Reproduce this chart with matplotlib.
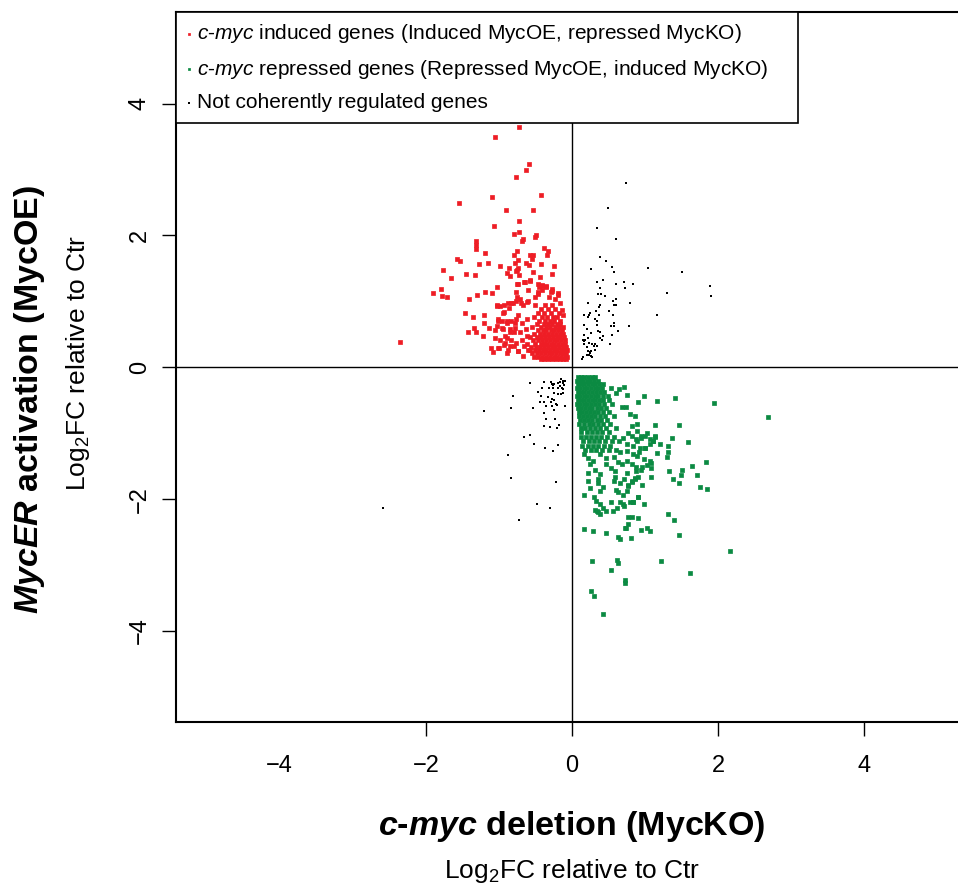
import matplotlib
matplotlib.use('Agg')
import matplotlib.pyplot as plt

plt.rcParams['font.family'] = ['Liberation Sans', 'DejaVu Sans']
plt.rcParams['mathtext.fontset'] = 'custom'
plt.rcParams['mathtext.rm'] = 'Liberation Sans'
plt.rcParams['mathtext.it'] = 'Liberation Sans:italic'
plt.rcParams['mathtext.bf'] = 'Liberation Sans:bold'
plt.rcParams['mathtext.bfit'] = 'Liberation Sans:bold:italic'

# c-myc induced genes (MycKO logFC, MycOE logFC), sparse part
red_sparse = [
    (-0.73, 3.65), (-1.06, 3.50), (-0.59, 3.09), (-0.63, 2.99), (-0.76, 2.88),
    (-0.42, 2.62), (-1.09, 2.59), (-1.54, 2.49), (-0.90, 2.39), (-0.53, 2.39),
    (-0.72, 2.22), (-1.07, 2.15), (-0.73, 2.06), (-0.79, 2.02), (-0.49, 2.01),
    (-0.51, 1.98), (-0.67, 1.94), (-0.68, 1.91), (-1.32, 1.92), (-1.32, 1.85),
    (-1.31, 1.80), (-0.38, 1.81), (-0.33, 1.77), (-0.34, 1.71), (-0.75, 1.76),
    (-1.19, 1.74), (-0.80, 1.70), (-0.57, 1.70), (-0.54, 1.70), (-0.55, 1.65),
    (-1.58, 1.65), (-1.53, 1.61), (-0.74, 1.63), (-0.78, 1.59), (-0.63, 1.59),
    (-0.59, 1.55), (-0.42, 1.56), (-0.25, 1.54), (-1.15, 1.58), (-1.27, 1.56),
    (-0.98, 1.53), (-0.86, 1.51), (-0.74, 1.51), (-0.75, 1.47), (-1.76, 1.48),
    (-1.45, 1.42), (-1.33, 1.40), (-0.89, 1.43), (-0.77, 1.46), (-0.53, 1.45),
    (-0.73, 1.40), (-0.85, 1.39), (-1.66, 1.36), (-0.44, 1.37), (-0.27, 1.41),
    (-0.66, 1.30), (-0.58, 1.32), (-0.75, 1.26), (-0.41, 1.25), (-0.35, 1.22),
    (-0.45, 1.22), (-0.41, 1.18), (-1.79, 1.19), (-1.02, 1.22), (-1.90, 1.13),
    (-1.78, 1.08), (-1.71, 1.06), (-1.41, 1.04), (-1.30, 1.10), (-1.19, 1.14),
    (-1.10, 1.12), (-0.76, 1.14), (-0.46, 1.15), (-0.29, 1.14), (-0.27, 1.16),
    (-0.19, 1.10), (-1.46, 0.82), (-1.35, 0.77), (-1.21, 0.79), (-1.20, 0.67),
    (-1.13, 0.60), (-1.42, 0.54), (-1.34, 0.59), (-1.32, 0.53), (-1.22, 0.47),
    (-1.05, 0.56), (-1.05, 0.44), (-1.11, 0.30), (-1.08, 0.24), (-1.00, 0.30),
    (-0.93, 0.34), (-0.89, 0.22), (-2.35, 0.39),
    (-1.03, 0.93), (-0.98, 0.93), (-0.93, 0.84), (-0.86, 0.90), (-0.81, 0.98),
    (-0.76, 1.01), (-0.71, 1.03), (-0.67, 0.95), (-0.61, 0.99), (-1.01, 0.73),
    (-0.96, 0.70), (-0.89, 0.68), (-0.83, 0.70), (-0.76, 0.73), (-0.69, 0.68),
    (-0.62, 0.73), (-1.03, 0.63), (-0.94, 0.58), (-0.85, 0.53), (-0.78, 0.60),
    (-0.71, 0.53), (-0.63, 0.58), (-0.99, 0.42), (-0.92, 0.47), (-0.83, 0.42),
    (-0.76, 0.37), (-0.69, 0.42), (-0.62, 0.47), (-0.87, 0.27), (-0.80, 0.32),
    (-0.74, 0.25), (-0.66, 0.32), (-0.60, 0.27),
    (-0.74, 1.26), (-0.65, 1.29), (-0.58, 1.31), (-0.47, 1.27), (-0.41, 1.23),
    (-0.36, 1.24), (-0.27, 1.19), (-0.19, 1.13), (-0.46, 1.11), (-0.60, 1.18),
    (-0.75, 1.06), (-0.87, 0.98), (-0.93, 0.94), (-1.02, 0.94), (-0.95, 0.83),
    (-0.84, 0.98), (-0.70, 0.97), (-0.60, 1.01), (-0.51, 1.06), (-0.32, 1.06),
    (-0.23, 1.03), (-0.16, 0.97), (-0.14, 0.87), (-0.12, 0.79), (-0.74, 0.80),
    (-0.78, 0.68), (-0.89, 0.70), (-1.01, 0.70), (-0.96, 0.59), (-0.85, 0.58),
    (-0.80, 0.53), (-0.92, 0.37), (-0.85, 0.32), (-0.74, 0.25), (-0.67, 0.17),
    (-0.89, 0.45), (-1.01, 0.30),
]

# c-myc induced genes, dense core: (MycOE logFC, [MycKO logFC ...])
red_core = [
    (0.12, [-0.08, -0.12, -0.17, -0.22, -0.27, -0.33, -0.38, -0.43]),
    (0.16, [-0.07, -0.10, -0.15, -0.20, -0.25, -0.30, -0.35, -0.41, -0.46, -0.52]),
    (0.21, [-0.08, -0.12, -0.17, -0.22, -0.28, -0.32, -0.37, -0.42, -0.48, -0.55]),
    (0.26, [-0.07, -0.11, -0.15, -0.20, -0.25, -0.30, -0.36, -0.40, -0.45, -0.51, -0.58]),
    (0.31, [-0.08, -0.13, -0.18, -0.23, -0.27, -0.33, -0.38, -0.44, -0.49, -0.56]),
    (0.36, [-0.09, -0.14, -0.19, -0.24, -0.29, -0.34, -0.39, -0.43, -0.50, -0.61]),
    (0.41, [-0.10, -0.15, -0.20, -0.25, -0.30, -0.35, -0.41, -0.46, -0.53]),
    (0.46, [-0.11, -0.16, -0.21, -0.26, -0.31, -0.37, -0.42, -0.48, -0.57]),
    (0.51, [-0.12, -0.17, -0.22, -0.28, -0.33, -0.38, -0.44, -0.52]),
    (0.56, [-0.14, -0.19, -0.24, -0.29, -0.35, -0.40, -0.47]),
    (0.61, [-0.13, -0.18, -0.23, -0.30, -0.36, -0.43, -0.55]),
    (0.66, [-0.16, -0.21, -0.27, -0.33, -0.39, -0.48]),
    (0.71, [-0.17, -0.24, -0.30, -0.37, -0.45]),
    (0.77, [-0.20, -0.26, -0.34, -0.41, -0.52]),
    (0.83, [-0.18, -0.29, -0.38, -0.47]),
    (0.89, [-0.23, -0.33, -0.42]),
    (0.95, [-0.28, -0.37, -0.50]),
]

# c-myc repressed genes, sparse part
green_sparse = [
    (0.99, -0.43), (1.16, -0.51), (1.41, -0.47), (0.75, -0.42), (0.71, -0.30),
    (0.65, -0.33), (0.54, -0.32), (0.60, -0.39), (0.91, -0.52), (0.68, -0.60),
    (0.74, -0.60), (1.46, -0.87), (1.13, -0.88), (1.37, -1.07), (1.21, -1.17),
    (1.32, -1.19), (1.31, -1.29), (1.30, -1.36), (1.16, -1.30), (1.08, -1.45),
    (1.33, -1.57), (1.38, -1.70), (1.46, -1.75), (1.08, -1.67), (0.96, -1.78),
    (0.90, -1.96), (0.99, -2.07), (1.32, -2.23), (1.39, -2.32), (1.46, -2.55),
    (1.02, -2.44), (1.07, -2.49), (0.95, -2.46), (0.91, -2.29), (0.81, -2.59),
    (0.73, -2.44), (0.63, -2.57), (0.66, -2.61), (0.46, -2.51), (0.29, -2.49),
    (0.16, -2.45), (0.28, -2.94), (0.62, -2.93), (0.63, -2.97), (0.54, -3.08),
    (1.22, -2.94), (0.73, -3.23), (0.73, -3.27), (0.26, -3.40), (0.30, -3.47),
    (0.43, -3.74), (1.95, -0.54), (2.68, -0.75), (1.59, -1.13), (1.84, -1.43),
    (1.64, -1.49), (1.51, -1.56), (1.49, -1.63), (1.71, -1.64), (1.75, -1.82),
    (1.85, -1.85), (2.16, -2.78), (1.61, -3.12), (0.82, -2.27), (0.76, -2.27),
    (1.14, -1.05), (1.11, -1.12), (1.07, -1.09), (1.00, -1.04), (0.94, -1.07),
    (0.88, -1.08), (0.93, -1.22), (1.00, -1.23), (0.89, -1.35), (0.98, -1.39),
    (1.08, -1.52), (0.88, -1.51), (0.96, -1.51), (0.86, -1.68), (0.82, -1.72),
    (0.77, -1.79), (0.91, -1.96), (0.84, -2.05), (0.71, -2.10), (0.76, -2.38),
    (0.74, -2.44),
    (0.30, -1.96), (0.33, -2.03), (0.39, -2.08), (0.43, -2.13), (0.34, -2.18),
    (0.38, -2.22), (0.47, -2.18), (0.54, -2.04), (0.56, -2.18), (0.62, -2.13),
    (0.66, -2.04), (0.70, -2.08), (0.79, -2.04), (0.84, -2.05), (0.38, -1.87),
    (0.42, -1.82), (0.60, -1.86), (0.63, -1.89), (0.70, -1.93), (0.75, -1.87),
    (0.76, -1.80), (0.82, -1.74), (0.86, -1.70), (0.90, -1.66), (0.16, -1.94),
    (0.32, -2.17), (0.36, -2.20), (0.22, -1.73), (0.35, -1.75), (0.25, -1.83),
    (0.57, -1.72), (0.59, -1.67), (0.66, -1.75), (0.71, -1.70), (0.75, -1.60),
    (0.47, -1.47), (0.53, -1.52), (0.59, -1.57), (0.63, -1.44), (0.69, -1.47),
    (0.75, -1.42), (0.82, -1.47), (0.88, -1.58), (0.95, -1.56), (1.02, -1.48),
    (1.07, -1.42), (0.25, -1.47), (0.32, -1.55), (0.38, -1.62), (0.36, -1.70),
    (0.22, -1.61), (0.16, -1.31), (0.22, -1.37), (0.29, -1.42), (0.38, -1.32),
    (0.47, -1.38), (0.57, -1.36), (0.66, -1.29), (0.75, -1.27), (0.84, -1.32),
    (0.92, -1.28), (1.00, -1.22), (1.07, -1.17), (1.11, -1.12), (0.89, -0.96),
    (0.95, -1.04), (1.02, -0.99), (1.14, -1.04), (0.82, -1.04), (0.75, -1.17),
    (0.84, -1.19), (0.89, -1.12), (0.79, -0.71), (0.86, -0.74), (0.82, -0.89),
    (0.89, -0.86), (0.77, -0.99), (0.70, -1.07),
]

# c-myc repressed genes, dense core: (MycOE logFC, [MycKO logFC ...])
green_core = [
    (-0.15, [0.08, 0.12, 0.17, 0.22, 0.27, 0.31]),
    (-0.20, [0.07, 0.11, 0.15, 0.20, 0.25, 0.30, 0.35]),
    (-0.26, [0.08, 0.12, 0.17, 0.22, 0.27, 0.32, 0.37, 0.43]),
    (-0.32, [0.07, 0.11, 0.16, 0.21, 0.26, 0.31, 0.36, 0.41]),
    (-0.38, [0.08, 0.12, 0.17, 0.22, 0.27, 0.33, 0.38, 0.44]),
    (-0.44, [0.07, 0.11, 0.16, 0.21, 0.26, 0.31, 0.36, 0.42, 0.49]),
    (-0.50, [0.08, 0.12, 0.17, 0.22, 0.27, 0.32, 0.37, 0.43, 0.51]),
    (-0.56, [0.07, 0.11, 0.16, 0.21, 0.26, 0.31, 0.37, 0.44, 0.55]),
    (-0.62, [0.08, 0.13, 0.18, 0.23, 0.28, 0.34, 0.40, 0.47]),
    (-0.68, [0.09, 0.14, 0.19, 0.24, 0.30, 0.36, 0.42, 0.50]),
    (-0.74, [0.10, 0.15, 0.20, 0.26, 0.32, 0.38, 0.45, 0.58]),
    (-0.80, [0.11, 0.16, 0.22, 0.28, 0.34, 0.40, 0.48]),
    (-0.86, [0.10, 0.17, 0.23, 0.29, 0.35, 0.42, 0.52]),
    (-0.92, [0.12, 0.18, 0.25, 0.31, 0.38, 0.46, 0.60]),
    (-0.98, [0.13, 0.20, 0.27, 0.34, 0.41, 0.50]),
    (-1.05, [0.12, 0.19, 0.26, 0.33, 0.40, 0.48, 0.57]),
    (-1.12, [0.15, 0.23, 0.30, 0.37, 0.45, 0.55, 0.64]),
    (-1.19, [0.14, 0.22, 0.29, 0.36, 0.44, 0.52]),
    (-1.25, [0.18, 0.26, 0.33, 0.41, 0.50, 0.60]),
]

# not coherently regulated genes
black_pts = [
    (-0.15, -0.17), (-0.12, -0.20), (-0.09, -0.20), (-0.16, -0.22), (-0.13, -0.24),
    (-0.58, -0.24), (-0.39, -0.22), (-0.29, -0.22), (-0.27, -0.26), (-0.26, -0.27),
    (-0.24, -0.26), (-0.19, -0.24), (-0.17, -0.28), (-0.11, -0.27), (-0.41, -0.31),
    (-0.32, -0.32), (-0.26, -0.31), (-0.19, -0.32), (-0.14, -0.32), (-0.12, -0.33),
    (-0.47, -0.37), (-0.25, -0.39), (-0.19, -0.41), (-0.15, -0.41), (-0.13, -0.39),
    (-0.81, -0.43), (-0.42, -0.43), (-0.33, -0.45), (-0.27, -0.48), (-0.24, -0.50),
    (-0.44, -0.52), (-0.38, -0.52), (-0.29, -0.53), (-0.22, -0.55), (-0.21, -0.57),
    (-0.35, -0.59), (-0.27, -0.58), (-0.10, -0.58), (-0.84, -0.61), (-0.53, -0.61),
    (-0.24, -0.65), (-1.21, -0.67), (-0.38, -0.70), (-0.35, -0.79), (-0.23, -0.78),
    (-0.38, -0.89), (-0.30, -0.91), (-0.18, -0.88), (-0.20, -0.92), (-0.58, -1.02),
    (-0.66, -1.06), (-0.52, -1.16), (-0.37, -1.23), (-0.26, -1.27), (-0.19, -1.18),
    (-0.88, -1.33), (-0.84, -1.68), (-0.22, -1.74), (-2.59, -2.13), (-0.48, -2.07),
    (-0.30, -2.13), (-0.73, -2.31),
    (0.74, 2.79), (0.49, 2.41), (0.34, 2.11), (0.60, 1.94), (0.39, 1.67),
    (0.47, 1.61), (0.26, 1.49), (0.55, 1.52), (0.58, 1.44), (1.04, 1.50),
    (1.50, 1.44), (1.89, 1.23), (1.90, 1.08), (1.30, 1.12), (1.17, 0.80),
    (0.34, 1.30), (0.42, 1.33), (0.38, 1.21), (0.71, 1.30), (0.60, 1.26),
    (0.83, 1.27), (0.72, 1.20), (0.36, 1.11), (0.40, 1.11), (0.45, 1.08),
    (0.60, 1.03), (0.56, 1.00), (0.58, 0.95), (0.60, 0.94), (0.80, 0.98),
    (0.22, 0.97), (0.39, 0.95), (0.37, 0.92), (0.50, 0.85), (0.56, 0.80),
    (0.33, 0.85), (0.25, 0.82), (0.23, 0.79), (0.16, 0.79), (0.22, 0.76),
    (0.37, 0.79), (0.31, 0.73), (0.34, 0.71), (0.16, 0.64), (0.34, 0.64),
    (0.53, 0.63), (0.58, 0.67), (0.58, 0.63), (0.78, 0.63), (0.20, 0.58),
    (0.35, 0.55), (0.38, 0.54), (0.63, 0.55), (0.26, 0.52), (0.16, 0.49),
    (0.42, 0.47), (0.55, 0.49), (0.22, 0.45), (0.39, 0.44), (0.41, 0.42),
    (0.15, 0.42), (0.16, 0.40), (0.18, 0.42), (0.23, 0.37), (0.28, 0.36),
    (0.31, 0.36), (0.17, 0.35), (0.20, 0.31), (0.30, 0.32), (0.34, 0.32),
    (0.52, 0.35), (0.22, 0.25), (0.24, 0.23), (0.26, 0.25), (0.31, 0.26),
    (0.23, 0.18), (0.26, 0.17), (0.28, 0.16), (0.21, 0.19), (0.15, 0.15),
    (0.14, 0.12), (0.25, 0.21),
]

legend_labels = [
    r'$\mathit{c}$-$\mathit{myc}$ induced genes (Induced MycOE, repressed MycKO)',
    r'$\mathit{c}$-$\mathit{myc}$ repressed genes (Repressed MycOE, induced MycKO)',
    'Not coherently regulated genes',
]
red = '#EE1D25'
green = '#0B8A42'

red_x = [p[0] for p in red_sparse] + [x for y, xs in red_core for x in xs]
red_y = [p[1] for p in red_sparse] + [y for y, xs in red_core for x in xs]
green_x = [p[0] for p in green_sparse] + [x for y, xs in green_core for x in xs]
green_y = [p[1] for p in green_sparse] + [y for y, xs in green_core for x in xs]
black_x = [p[0] for p in black_pts]
black_y = [p[1] for p in black_pts]

fig = plt.figure(figsize=(9.58, 8.88), dpi=100)
ax = fig.add_axes([176 / 958, 166 / 888, 792 / 958, 710 / 888])

ax.axhline(0, color='black', lw=1.0, zorder=1)
ax.axvline(0, color='black', lw=1.0, zorder=1)

hb = ax.scatter(black_x, black_y, s=3.5, marker='s', color='black', linewidths=0, zorder=2)
hr = ax.scatter(red_x, red_y, s=10, marker='s', color=red, edgecolors=red, linewidths=0.5, zorder=3)
hg = ax.scatter(green_x, green_y, s=10, marker='s', color=green, edgecolors=green, linewidths=0.5, zorder=3)

ax.set_xlim(-5.42, 5.42)
ax.set_ylim(-5.38, 5.39)
ax.set_xticks([-4, -2, 0, 2, 4])
ax.set_yticks([-4, -2, 0, 2, 4])
ax.set_xticklabels(['\u22124', '\u22122', '0', '2', '4'])
ax.set_yticklabels(['\u22124', '\u22122', '0', '2', '4'], rotation=90, va='center')
ax.tick_params(axis='both', direction='out', length=10, width=1.0, labelsize=17)
ax.tick_params(axis='x', pad=14)
ax.tick_params(axis='y', pad=8)
ax.xaxis.get_major_ticks()[0].tick1line.set_visible(False)
for sp in ax.spines.values():
    sp.set_linewidth(1.5)

leg = ax.legend([hr, hg, hb], legend_labels, loc='upper left',
                bbox_to_anchor=(0, 0.842, 0.785, 0.158), mode='expand',
                borderaxespad=0, fontsize=15, markerscale=0.6, handlelength=0.2,
                handletextpad=0.3, labelspacing=0.6, borderpad=0.5, fancybox=False,
                framealpha=1, edgecolor='black')
leg.get_frame().set_linewidth(1.2)
leg.set_zorder(5)

fig.text(572 / 958, (888 - 826) / 888, r'$\mathbfit{c}$-$\mathbfit{myc}$ deletion (MycKO)',
         ha='center', va='center', fontsize=24.5, fontweight='bold')
fig.text(572 / 958, (888 - 871) / 888, r'Log$_2$FC relative to Ctr',
         ha='center', va='center', fontsize=19)
fig.text(30 / 958, (888 - 399) / 888, r'$\mathbfit{MycER}$ activation (MycOE)',
         ha='center', va='center', fontsize=24.5, fontweight='bold', rotation=90)
fig.text(78 / 958, (888 - 363) / 888, r'Log$_2$FC relative to Ctr',
         ha='center', va='center', fontsize=19, rotation=90)

fig.savefig('out.png', dpi=100)
